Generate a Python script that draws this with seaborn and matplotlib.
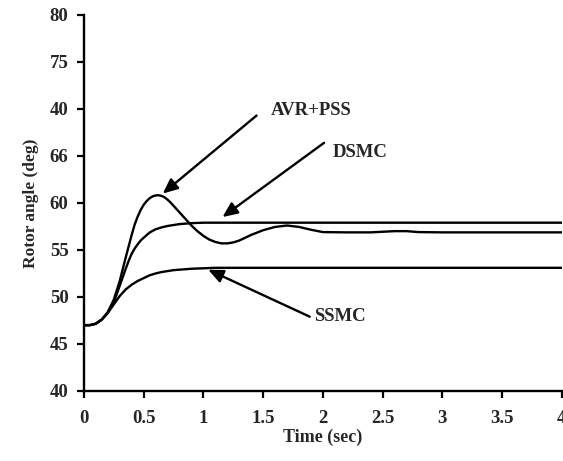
import matplotlib
matplotlib.use("Agg")
import matplotlib.pyplot as plt
import seaborn as sns
import pandas as pd

# AVR+PSS response (time in s, rotor angle in deg)
t_avr = [0, 0.05, 0.1, 0.15, 0.2, 0.25, 0.3, 0.35, 0.4, 0.425, 0.45, 0.475, 0.5,
         0.525, 0.55, 0.575, 0.6, 0.625, 0.65, 0.675, 0.7, 0.725, 0.75, 0.775,
         0.8, 0.85, 0.9, 0.95, 1.0, 1.05, 1.1, 1.15, 1.2, 1.25, 1.3, 1.4, 1.5,
         1.6, 1.7, 1.8, 1.9, 2.0, 2.2, 2.4, 2.6, 2.7, 2.8, 3.0, 3.5, 4.0]
avr_pss = [47, 47, 47.15, 47.6, 48.4, 49.7, 51.7, 54.2, 56.6, 57.7, 58.55, 59.25,
           59.8, 60.2, 60.5, 60.7, 60.8, 60.82, 60.75, 60.6, 60.35, 60.05, 59.7,
           59.35, 59.0, 58.3, 57.6, 57.0, 56.5, 56.1, 55.85, 55.7, 55.7, 55.8,
           56.0, 56.6, 57.1, 57.45, 57.6, 57.45, 57.15, 56.9, 56.87, 56.87, 57.0,
           57.0, 56.9, 56.87, 56.87, 56.87]

# DSMC response
t_dsmc = [0, 0.05, 0.1, 0.15, 0.2, 0.25, 0.3, 0.325, 0.35, 0.375, 0.4, 0.425,
          0.45, 0.475, 0.5, 0.55, 0.6, 0.65, 0.7, 0.75, 0.8, 0.9, 1.0, 1.5, 2.0,
          3.0, 4.0]
dsmc = [47, 47, 47.15, 47.6, 48.3, 49.4, 51.2, 52.1, 53.0, 53.85, 54.6, 55.15,
        55.6, 56.0, 56.3, 56.85, 57.2, 57.4, 57.55, 57.65, 57.75, 57.85, 57.9,
        57.9, 57.9, 57.9, 57.9]

# SSMC response
t_ssmc = [0, 0.05, 0.1, 0.15, 0.2, 0.25, 0.3, 0.35, 0.4, 0.45, 0.5, 0.55, 0.6,
          0.65, 0.7, 0.75, 0.8, 0.9, 1.0, 1.1, 1.5, 2.0, 3.0, 4.0]
ssmc = [47, 47, 47.15, 47.6, 48.3, 49.2, 50.1, 50.8, 51.3, 51.7, 52.0, 52.3,
        52.5, 52.65, 52.75, 52.85, 52.9, 53.0, 53.05, 53.1, 53.1, 53.1, 53.1,
        53.1]

y_ticks = [40, 45, 50, 55, 60, 65, 70, 75, 80]
y_tick_labels = ["40", "45", "50", "55", "60", "66", "40", "75", "80"]
x_ticks = [0, 0.5, 1, 1.5, 2, 2.5, 3, 3.5, 4]
x_tick_labels = ["0", "0.5", "1", "1.5", "2", "2.5", "3", "3.5", "4"]

sns.set_style("ticks")
plt.rcParams["font.family"] = ["Liberation Serif", "DejaVu Serif"]
plt.rcParams["font.weight"] = "bold"

series = [
    pd.DataFrame({"t": t_avr, "angle": avr_pss}),
    pd.DataFrame({"t": t_dsmc, "angle": dsmc}),
    pd.DataFrame({"t": t_ssmc, "angle": ssmc}),
]

fig = plt.figure(figsize=(5.63, 4.61), dpi=100)
ax = fig.add_axes([0.149, 0.152, 0.849, 0.8155])

for df in series:
    sns.lineplot(data=df, x="t", y="angle", ax=ax, color="black", linewidth=1.7)

ax.set_xlim(0, 4)
ax.set_ylim(40, 80)
ax.set_xticks(x_ticks)
ax.set_xticklabels(x_tick_labels, fontsize=13.5, fontweight="bold")
ax.set_yticks(y_ticks)
ax.set_yticklabels(y_tick_labels, fontsize=13.5, fontweight="bold")
ax.tick_params(axis="both", direction="out", length=5, width=1.6, color="black")
ax.tick_params(axis="x", pad=9)
ax.tick_params(axis="y", pad=6)
ax.set_xlabel("Time (sec)", fontsize=13, fontweight="bold", labelpad=1)
ax.set_ylabel("Rotor angle (deg)", fontsize=12.5, fontweight="bold", labelpad=8)

for side in ["top", "right"]:
    ax.spines[side].set_visible(False)
for side in ["left", "bottom"]:
    ax.spines[side].set_linewidth(1.7)
    ax.spines[side].set_color("black")

arrow = dict(arrowstyle="-|>,head_length=0.9,head_width=0.4", color="black",
             lw=1.7, shrinkA=0, shrinkB=0)

ax.annotate("", xy=(0.66, 61.0), xytext=(1.445, 69.3), arrowprops=arrow)
ax.text(1.565, 69.8, "AVR+PSS", fontsize=13.5, fontweight="bold", va="center", ha="left")

ax.annotate("", xy=(1.16, 58.5), xytext=(2.01, 66.4), arrowprops=arrow)
ax.text(2.08, 65.4, "DSMC", fontsize=13.5, fontweight="bold", va="center", ha="left")

ax.annotate("", xy=(1.04, 52.9), xytext=(1.89, 47.9), arrowprops=arrow)
ax.text(1.93, 47.9, "SSMC", fontsize=13.5, fontweight="bold", va="center", ha="left")

fig.savefig("out.png", dpi=100)
